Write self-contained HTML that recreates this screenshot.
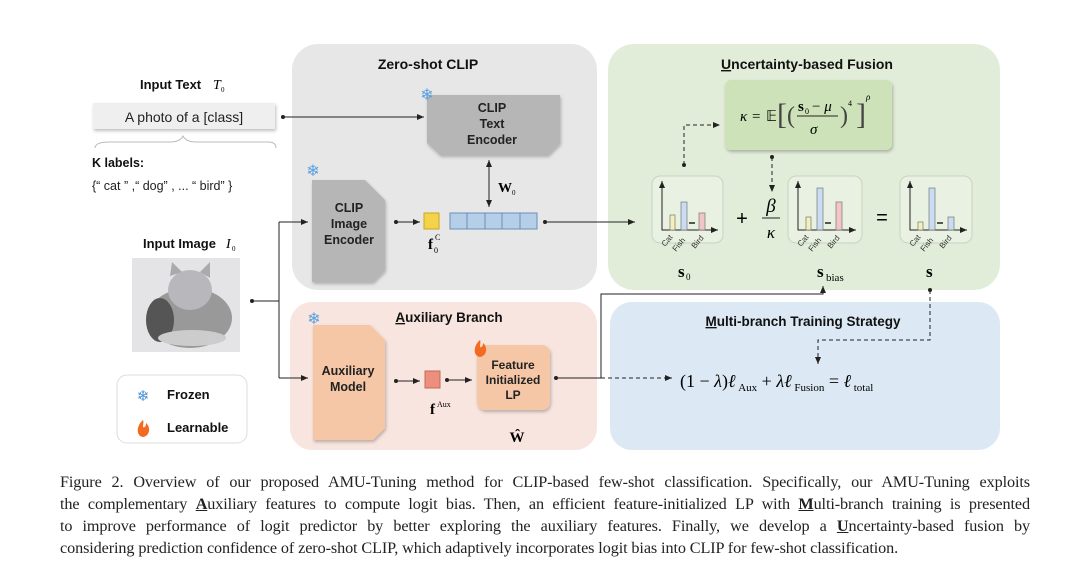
<!DOCTYPE html>
<html><head><meta charset="utf-8"><style>
body{margin:0;background:#fff;width:1080px;height:575px;overflow:hidden;position:relative;font-family:"Liberation Sans",sans-serif}
.cap{position:absolute;left:60px;width:970px;font-family:"Liberation Serif",serif;font-size:16.2px;color:#222;text-align:justify;text-align-last:justify;white-space:nowrap;letter-spacing:-0.1px}
.cap.last{text-align-last:left}
</style></head><body>
<svg width="1080" height="470" style="position:absolute;left:0;top:0" font-family="Liberation Sans, sans-serif">
<defs>
<marker id="a" markerWidth="8" markerHeight="8" refX="7" refY="4" orient="auto" markerUnits="userSpaceOnUse"><path d="M0,1 L7,4 L0,7 z" fill="#222"/></marker>
<filter id="sh" x="-10%" y="-10%" width="130%" height="140%"><feDropShadow dx="1" dy="2" stdDeviation="1.5" flood-opacity="0.25"/></filter>
</defs>
<rect x="292" y="44" width="305" height="246" rx="26" fill="#e7e7e7"/>
<rect x="608" y="44" width="392" height="246" rx="26" fill="#e2edd9"/>
<rect x="290" y="302" width="307" height="148" rx="22" fill="#f8e5df"/>
<rect x="610" y="302" width="390" height="148" rx="22" fill="#dce8f3"/>
<text x="428" y="69" font-size="14" font-weight="bold" text-anchor="middle" fill="#111">Zero-shot CLIP</text>
<text x="807" y="69" font-size="14" font-weight="bold" text-anchor="middle" fill="#111"><tspan text-decoration="underline">U</tspan>ncertainty-based  Fusion</text>
<text x="449" y="322" font-size="13.5" font-weight="bold" text-anchor="middle" fill="#111"><tspan text-decoration="underline">A</tspan>uxiliary Branch</text>
<text x="803" y="326" font-size="13.5" font-weight="bold" text-anchor="middle" fill="#111"><tspan text-decoration="underline">M</tspan>ulti-branch Training Strategy</text>
<text x="140" y="89" font-size="13" font-weight="bold" fill="#111">Input Text</text>
<text x="213" y="89" font-size="14" font-style="italic" font-family="Liberation Serif,serif">T</text><text x="221" y="92" font-size="7" font-family="Liberation Serif,serif">0</text>
<rect x="93" y="103" width="182" height="26" fill="#efefef" filter="url(#sh)"/>
<text x="184" y="122" font-size="14" text-anchor="middle" fill="#222">A photo of a [class]</text>
<path d="M95,148 Q95,142 110,142 L170,142 Q180,142 183,136 Q186,142 196,142 L268,142 Q276,142 276,148" fill="none" stroke="#bbb"/>
<text x="92" y="167" font-size="12.5" font-weight="bold" fill="#111">K labels:</text>
<text x="92" y="190" font-size="12.5" fill="#222">{“ cat ” ,“ dog” , ... “ bird” }</text>
<text x="143" y="248" font-size="13" font-weight="bold" fill="#111">Input Image</text>
<text x="226" y="248" font-size="14" font-style="italic" font-family="Liberation Serif,serif">I</text><text x="232" y="251" font-size="7" font-family="Liberation Serif,serif">0</text>
<rect x="132" y="258" width="108" height="94" fill="#e4e4e6"/>
<ellipse cx="190" cy="318" rx="42" ry="30" fill="#999"/>
<ellipse cx="190" cy="290" rx="22" ry="20" fill="#b8b8bc"/>
<path d="M170,276 L172,262 L182,272 Z M200,272 L210,262 L210,278 Z" fill="#aaa"/>
<ellipse cx="160" cy="320" rx="14" ry="22" fill="#555"/>
<ellipse cx="192" cy="338" rx="34" ry="8" fill="#ccc"/>
<rect x="117" y="375" width="130" height="68" rx="10" fill="#fff" stroke="#ddd"/>
<text x="143" y="401" font-size="15" text-anchor="middle" fill="#4a8fd6">❄</text>
<text x="167" y="399" font-size="13" font-weight="bold" fill="#111">Frozen</text>
<path d="M143,420 c-7,6 -7,16 0,17 c7,-1 8,-10 3,-14 c0,4 -2,5 -3,4 c0,-3 1,-5 0,-7z" fill="#f36b21"/>
<text x="167" y="432" font-size="13" font-weight="bold" fill="#111">Learnable</text>
<path d="M427,95 L560,95 L560,143 L548,155 L440,155 L427,143 Z" fill="#b6b6b6" filter="url(#sh)"/>
<text x="492" y="112" font-size="12.5" font-weight="bold" text-anchor="middle" fill="#222">CLIP</text>
<text x="492" y="128" font-size="12.5" font-weight="bold" text-anchor="middle" fill="#222">Text</text>
<text x="492" y="144" font-size="12.5" font-weight="bold" text-anchor="middle" fill="#222">Encoder</text>
<text x="427" y="100" font-size="16" text-anchor="middle" fill="#5aa0e0">❄</text>
<path d="M312,180 L365,180 L385,200 L385,270 L373,282 L312,282 Z" fill="#b6b6b6" filter="url(#sh)"/>
<text x="349" y="212" font-size="12.5" font-weight="bold" text-anchor="middle" fill="#222">CLIP</text>
<text x="349" y="228" font-size="12.5" font-weight="bold" text-anchor="middle" fill="#222">Image</text>
<text x="349" y="244" font-size="12.5" font-weight="bold" text-anchor="middle" fill="#222">Encoder</text>
<text x="313" y="176" font-size="16" text-anchor="middle" fill="#5aa0e0">❄</text>
<line x1="396" y1="222" x2="420" y2="222" stroke="#222" marker-end="url(#a)"/><circle cx="396" cy="222" r="2" fill="#222"/>
<rect x="424" y="213" width="15" height="16" fill="#f4d24a" stroke="#c9a520"/>
<rect x="450" y="213" width="87" height="16" fill="#b6cfe9" stroke="#6b8fb8"/>
<line x1="467" y1="213" x2="467" y2="229" stroke="#6b8fb8"/><line x1="485" y1="213" x2="485" y2="229" stroke="#6b8fb8"/><line x1="502" y1="213" x2="502" y2="229" stroke="#6b8fb8"/><line x1="520" y1="213" x2="520" y2="229" stroke="#6b8fb8"/>
<text x="428" y="249" font-size="15" font-weight="bold" font-family="Liberation Serif,serif">f</text><text x="434" y="253" font-size="8" font-family="Liberation Serif,serif">0</text><text x="435" y="240" font-size="8" font-family="Liberation Serif,serif">C</text>
<line x1="489" y1="164" x2="489" y2="207" stroke="#222" marker-end="url(#a)"/><line x1="489" y1="168" x2="489" y2="160" stroke="#222" marker-end="url(#a)"/>
<text x="498" y="192" font-size="14" font-weight="bold" font-family="Liberation Serif,serif">W</text><text x="512" y="195" font-size="7" font-family="Liberation Serif,serif">0</text>
<line x1="283" y1="117" x2="424" y2="117" stroke="#222" marker-end="url(#a)"/><circle cx="283" cy="117" r="2" fill="#222"/>
<circle cx="252" cy="301" r="2" fill="#222"/>
<line x1="252" y1="301" x2="279" y2="301" stroke="#222"/>
<line x1="279" y1="222" x2="279" y2="378" stroke="#222"/>
<line x1="279" y1="222" x2="308" y2="222" stroke="#222" marker-end="url(#a)"/>
<line x1="279" y1="378" x2="308" y2="378" stroke="#222" marker-end="url(#a)"/>
<line x1="545" y1="222" x2="635" y2="222" stroke="#222" marker-end="url(#a)"/><circle cx="545" cy="222" r="2" fill="#222"/>
<rect x="725" y="80" width="167" height="70" rx="6" fill="#cde2b8" filter="url(#sh)"/>
<g font-family="Liberation Serif,serif" font-size="15">
<text x="740" y="121" font-style="italic">κ</text><text x="752" y="121">=</text><text x="766" y="121">𝔼</text>
<text x="777" y="124" font-size="30" fill="#444">[</text><text x="787" y="123" font-size="24" fill="#444">(</text>
<text x="798" y="111" font-weight="bold">s</text><text x="805" y="114" font-size="8">0</text><text x="812" y="111">− <tspan font-style="italic">μ</tspan></text>
<line x1="797" y1="116" x2="838" y2="116" stroke="#222"/>
<text x="810" y="134" font-style="italic">σ</text>
<text x="840" y="123" font-size="24" fill="#444">)</text><text x="848" y="106" font-size="8">4</text>
<text x="856" y="124" font-size="30" fill="#444">]</text><text x="866" y="100" font-size="9" font-style="italic">ρ</text>
</g>
<path d="M684,165 L684,125 L720,125" fill="none" stroke="#222" stroke-dasharray="4,3" marker-end="url(#a)"/><circle cx="684" cy="165" r="2" fill="#222"/>
<path d="M772,157 L772,192" fill="none" stroke="#222" stroke-dasharray="4,3" marker-end="url(#a)"/><circle cx="772" cy="157" r="2" fill="#222"/>
<rect x="652" y="176" width="71" height="67" rx="8" fill="#e9f1e2" stroke="#c8d4be"/>
<rect x="788" y="176" width="74" height="67" rx="8" fill="#e9f1e2" stroke="#c8d4be"/>
<rect x="900" y="176" width="72" height="67" rx="8" fill="#e9f1e2" stroke="#c8d4be"/>
<g stroke="#222" fill="none">
<path d="M662,183 L662,230 L718,230" marker-end="url(#a)"/><line x1="662" y1="184" x2="662" y2="181" marker-end="url(#a)"/>
<path d="M798,183 L798,230 L856,230" marker-end="url(#a)"/><line x1="798" y1="184" x2="798" y2="181" marker-end="url(#a)"/>
<path d="M910,183 L910,230 L967,230" marker-end="url(#a)"/><line x1="910" y1="184" x2="910" y2="181" marker-end="url(#a)"/>
</g>
<rect x="670" y="215" width="5" height="15" fill="#f3f0b8" stroke="#777" stroke-width=".7"/>
<rect x="681" y="202" width="6" height="28" fill="#c9dcf2" stroke="#777" stroke-width=".7"/>
<rect x="699" y="213" width="6" height="17" fill="#f2c6c6" stroke="#777" stroke-width=".7"/>
<rect x="806" y="217" width="5" height="13" fill="#f3f0b8" stroke="#777" stroke-width=".7"/>
<rect x="817" y="188" width="6" height="42" fill="#c9dcf2" stroke="#777" stroke-width=".7"/>
<rect x="836" y="202" width="6" height="28" fill="#f2c6c6" stroke="#777" stroke-width=".7"/>
<rect x="918" y="222" width="5" height="8" fill="#f3f0b8" stroke="#777" stroke-width=".7"/>
<rect x="929" y="188" width="6" height="42" fill="#c9dcf2" stroke="#777" stroke-width=".7"/>
<rect x="948" y="217" width="6" height="13" fill="#c9dcf2" stroke="#777" stroke-width=".7"/>
<g stroke="#222" stroke-width="1.5"><line x1="689" y1="223" x2="695" y2="223"/><line x1="825" y1="223" x2="831" y2="223"/><line x1="937" y1="223" x2="943" y2="223"/></g>
<g font-size="8" fill="#333">
<text transform="translate(665,247) rotate(-50)">Cat</text><text transform="translate(676,252) rotate(-50)">Fish</text><text transform="translate(695,249) rotate(-50)">Bird</text>
<text transform="translate(801,247) rotate(-50)">Cat</text><text transform="translate(812,252) rotate(-50)">Fish</text><text transform="translate(831,249) rotate(-50)">Bird</text>
<text transform="translate(913,247) rotate(-50)">Cat</text><text transform="translate(924,252) rotate(-50)">Fish</text><text transform="translate(943,249) rotate(-50)">Bird</text>
</g>
<text x="742" y="225" font-size="20" text-anchor="middle">+</text>
<text x="771" y="212" font-size="19" text-anchor="middle" font-style="italic" font-family="Liberation Serif,serif">β</text>
<line x1="762" y1="218" x2="780" y2="218" stroke="#222"/>
<text x="771" y="238" font-size="17" text-anchor="middle" font-style="italic" font-family="Liberation Serif,serif">κ</text>
<text x="882" y="224" font-size="20" text-anchor="middle">=</text>
<text x="678" y="277" font-size="17" font-weight="bold" font-family="Liberation Serif,serif">s</text><text x="686" y="280" font-size="9" font-family="Liberation Serif,serif">0</text>
<text x="817" y="277" font-size="17" font-weight="bold" font-family="Liberation Serif,serif">s</text><text x="826" y="281" font-size="11" font-family="Liberation Serif,serif">bias</text>
<text x="926" y="277" font-size="17" font-weight="bold" font-family="Liberation Serif,serif">s</text>
<text x="314" y="324" font-size="16" text-anchor="middle" fill="#5aa0e0">❄</text>
<path d="M313,325 L370,325 L385,340 L385,428 L373,440 L313,440 Z" fill="#f6c7a6" filter="url(#sh)"/>
<text x="348" y="375" font-size="12.5" font-weight="bold" text-anchor="middle" fill="#222">Auxiliary</text>
<text x="348" y="391" font-size="12.5" font-weight="bold" text-anchor="middle" fill="#222">Model</text>
<line x1="396" y1="381" x2="420" y2="381" stroke="#222" marker-end="url(#a)"/><circle cx="396" cy="381" r="2" fill="#222"/>
<rect x="425" y="371" width="15" height="17" fill="#ec8f7c" stroke="#c06a5a"/>
<text x="430" y="414" font-size="15" font-weight="bold" font-family="Liberation Serif,serif">f</text><text x="437" y="407" font-size="8" font-family="Liberation Serif,serif">Aux</text>
<line x1="447" y1="380" x2="472" y2="380" stroke="#222" marker-end="url(#a)"/><circle cx="447" cy="380" r="2" fill="#222"/>
<rect x="477" y="345" width="73" height="65" rx="8" fill="#f6c7a6" filter="url(#sh)"/>
<path d="M480,340 c-7,6 -7,16 0,17 c7,-1 8,-10 3,-14 c0,4 -2,5 -3,4 c0,-3 1,-5 0,-7z" fill="#f36b21"/>
<text x="513" y="369" font-size="12" font-weight="bold" text-anchor="middle" fill="#222">Feature</text>
<text x="513" y="384" font-size="12" font-weight="bold" text-anchor="middle" fill="#222">Initialized</text>
<text x="513" y="399" font-size="12" font-weight="bold" text-anchor="middle" fill="#222">LP</text>
<text x="517" y="442" font-size="15" font-weight="bold" text-anchor="middle" font-family="Liberation Serif,serif">Ŵ</text>
<circle cx="556" cy="378" r="2" fill="#222"/>
<path d="M556,378 L601,378 L601,294 L823,294 L823,286" fill="none" stroke="#222" marker-end="url(#a)"/>
<line x1="601" y1="378" x2="672" y2="378" stroke="#222" stroke-dasharray="4,3" marker-end="url(#a)"/>
<circle cx="930" cy="290" r="2" fill="#222"/>
<path d="M930,290 L930,340 L818,340 L818,364" fill="none" stroke="#222" stroke-dasharray="4,3" marker-end="url(#a)"/>
<text x="680" y="387" font-size="18" font-family="Liberation Serif,serif">(1 − <tspan font-style="italic">λ</tspan>)<tspan font-style="italic">ℓ</tspan><tspan font-size="11" dy="4"> Aux</tspan><tspan dy="-4"> + </tspan><tspan font-style="italic">λℓ</tspan><tspan font-size="11" dy="4"> Fusion</tspan><tspan dy="-4"> =  </tspan><tspan font-style="italic">ℓ</tspan><tspan font-size="11" dy="4"> total</tspan></text>
</svg>
<div class="cap" style="top:473px">Figure 2. Overview of our proposed AMU-Tuning method for CLIP-based few-shot classification. Specifically, our AMU-Tuning exploits</div>
<div class="cap" style="top:495px">the complementary <u><b>A</b></u>uxiliary features to compute logit bias. Then, an efficient feature-initialized LP with <u><b>M</b></u>ulti-branch training is presented</div>
<div class="cap" style="top:517px">to improve performance of logit predictor by better exploring the auxiliary features. Finally, we develop a <u><b>U</b></u>ncertainty-based fusion by</div>
<div class="cap last" style="top:539px">considering prediction confidence of zero-shot CLIP, which adaptively incorporates logit bias into CLIP for few-shot classification.</div>
</body></html>
